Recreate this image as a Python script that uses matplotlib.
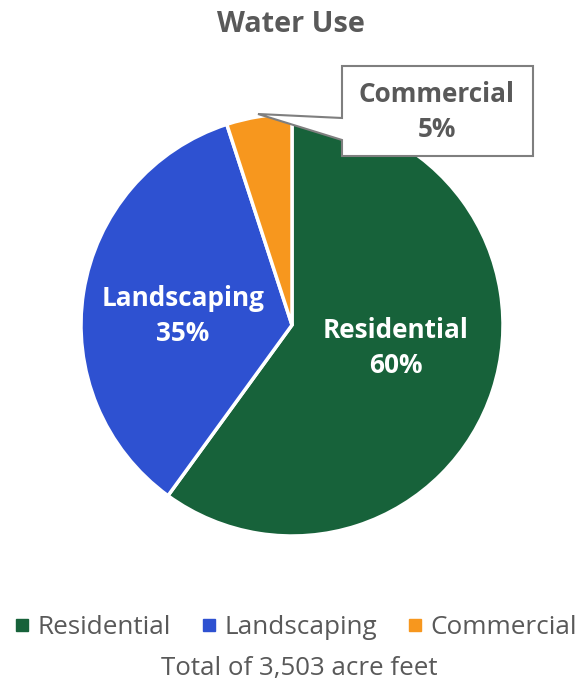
import matplotlib.pyplot as plt
from matplotlib.patches import Polygon
from matplotlib.lines import Line2D

# Water use by sector
categories = ['Residential', 'Landscaping', 'Commercial']
shares = [60, 35, 5]
colors = ['#17623A', '#2E51D1', '#F7971E']
total_note = 'Total of 3,503 acre feet'

plt.rcParams['font.family'] = ['Open Sans', 'DejaVu Sans']
grey = '#595959'

W, H = 583, 684
fig = plt.figure(figsize=(W / 100, H / 100), dpi=100)

# pie centred at (292, 325) px with radius 211 px
cx, cy, r = 292, 325, 211
ax = fig.add_axes([(cx - r) / W, (H - cy - r) / H, 2 * r / W, 2 * r / H])
wedges, _ = ax.pie(shares, colors=colors, startangle=90, counterclock=False,
                   radius=1, wedgeprops=dict(edgecolor='white', linewidth=2.5))
ax.set_xlim(-1, 1)
ax.set_ylim(-1, 1)
ax.set_aspect('equal')
ax.axis('off')

def px(x, y):
    return (x / W, 1 - y / H)

label_kw = dict(ha='center', va='center', fontsize=18.8, fontweight='bold', linespacing=1.4)

# in-slice labels
fig.text(*px(183, 316), f'{categories[1]}\n{shares[1]}%', color='white', **label_kw)
fig.text(*px(396, 348), f'{categories[0]}\n{shares[0]}%', color='white', **label_kw)

# callout for the small slice
pts = [(342, 66), (533, 66), (533, 156), (342, 156), (342, 140), (258, 114), (342, 118)]
callout = Polygon([px(x, y) for x, y in pts], closed=True, transform=fig.transFigure,
                  facecolor='white', edgecolor='#7F7F7F', linewidth=1.5)
fig.patches.append(callout)
fig.text(*px(437, 112), f'{categories[2]}\n{shares[2]}%', color=grey, **label_kw)

fig.text(*px(291, 25), 'Water Use', ha='center', va='center', color=grey,
         fontsize=20.8, fontweight='bold')

handles = [Line2D([], [], marker='s', linestyle='none', markersize=8,
                  markerfacecolor=c, markeredgecolor=c) for c in colors]
fig.legend(handles, categories, loc='center', bbox_to_anchor=px(293, 628), ncol=3,
           frameon=False, fontsize=18.8, labelcolor=grey, handletextpad=0.1,
           columnspacing=0.95, handlelength=1.0)
fig.text(*px(299, 668), total_note, ha='center', va='center', color=grey, fontsize=18.6)

fig.savefig('out.png', dpi=100)
